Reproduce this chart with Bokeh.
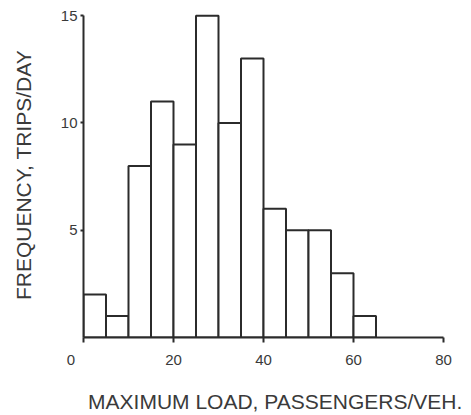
from bokeh.plotting import figure
from bokeh.models import Range1d, FixedTicker
from bokeh.embed import file_html
from bokeh.resources import INLINE

# Histogram data: maximum load bins (passengers/veh.) and frequency (trips/day)
bin_left = [0, 5, 10, 15, 20, 25, 30, 35, 40, 45, 50, 55, 60]
bin_right = [5, 10, 15, 20, 25, 30, 35, 40, 45, 50, 55, 60, 65]
freq = [2, 1, 8, 11, 9, 15, 10, 13, 6, 5, 5, 3, 1]
x_ticks = [0, 20, 40, 60, 80]
y_ticks = [5, 10, 15]
x_title = "MAXIMUM LOAD, PASSENGERS/VEH."
y_title = "FREQUENCY, TRIPS/DAY"

INK = "#2b2b2b"
TXT = "#3a3a3a"
FONT = "Liberation Sans"
NBSP = "\u00a0"

p = figure(width=463, height=415, output_backend="svg", toolbar_location=None,
           x_range=Range1d(0, 80), y_range=Range1d(0, 15.15),
           min_border_left=83, min_border_right=20, min_border_top=12,
           min_border_bottom=73)
p.background_fill_color = "white"
p.border_fill_color = "white"
p.outline_line_color = None
p.xgrid.visible = False
p.ygrid.visible = False

p.quad(left=bin_left, right=bin_right, bottom=0, top=freq,
       fill_color="white", line_color=INK, line_width=2)

xa = p.xaxis[0]
xa.ticker = FixedTicker(ticks=x_ticks)
xa.bounds = (0, 80)
xa.axis_line_color = INK
xa.axis_line_width = 2
xa.major_tick_line_color = INK
xa.major_tick_line_width = 2
xa.major_tick_out = 5
xa.major_tick_in = 0
xa.minor_tick_line_color = None
xa.major_label_text_font = FONT
xa.major_label_text_font_size = "15px"
xa.major_label_text_color = TXT
xa.major_label_standoff = 8
# the "0" sits left of the origin in the reference
xa.major_label_overrides = {0: "0" + NBSP * 6}
# the axis title sits a little right of the frame centre in the reference
xa.axis_label = NBSP * 4 + x_title
xa.axis_label_text_font = FONT
xa.axis_label_text_font_size = "21px"
xa.axis_label_text_font_style = "normal"
xa.axis_label_text_color = TXT
xa.axis_label_standoff = 19

ya = p.yaxis[0]
ya.ticker = FixedTicker(ticks=y_ticks)
ya.bounds = (0, 15)
ya.axis_line_color = INK
ya.axis_line_width = 2
ya.major_tick_line_color = INK
ya.major_tick_line_width = 2
ya.major_tick_out = 3
ya.major_tick_in = 0
ya.minor_tick_line_color = None
ya.major_label_text_font = FONT
ya.major_label_text_font_size = "15px"
ya.major_label_text_color = TXT
ya.major_label_standoff = 3
ya.axis_label = y_title
ya.axis_label_text_font = FONT
ya.axis_label_text_font_size = "21px"
ya.axis_label_text_font_style = "normal"
ya.axis_label_text_color = TXT
ya.axis_label_standoff = 23

open("out.html", "w").write(file_html(p, INLINE))
